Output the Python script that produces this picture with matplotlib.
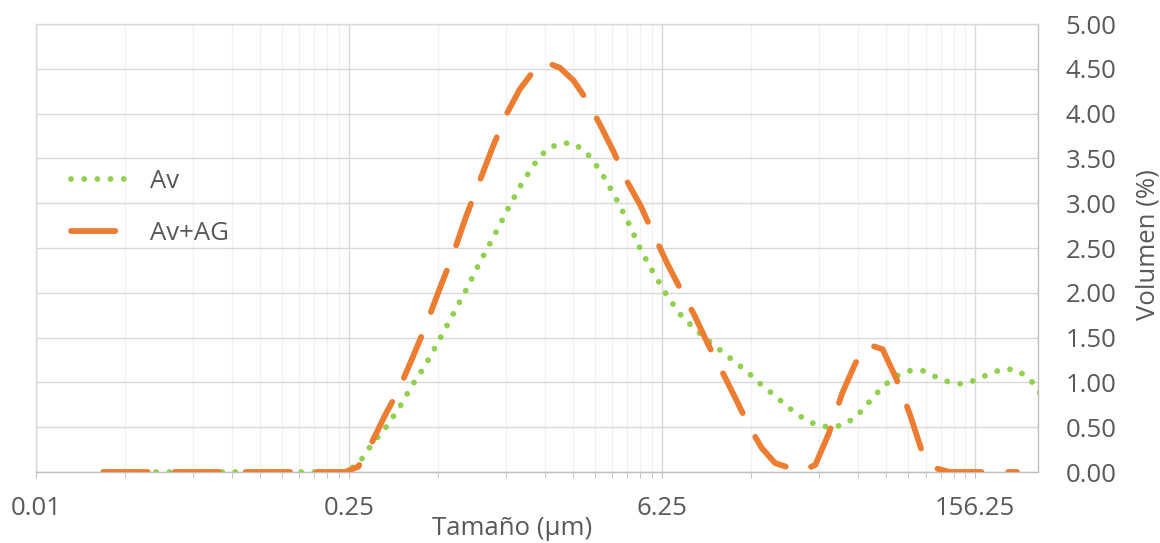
import numpy as np
import matplotlib
matplotlib.use('Agg')
import matplotlib.pyplot as plt
from matplotlib.ticker import FixedLocator, FixedFormatter, NullFormatter

# particle size classes (um)
sizes = [0.020, 0.023, 0.026, 0.030, 0.035, 0.040, 0.046, 0.052, 0.060, 0.069,
         0.079, 0.091, 0.105, 0.120, 0.138, 0.158, 0.182, 0.209, 0.240, 0.275,
         0.316, 0.363, 0.417, 0.479, 0.550, 0.631, 0.724, 0.832, 0.955, 1.096,
         1.259, 1.445, 1.660, 1.905, 2.188, 2.512, 2.884, 3.311, 3.802, 4.365,
         5.012, 5.754, 6.607, 7.586, 8.710, 10.000, 11.482, 13.183, 15.136, 17.378,
         19.953, 22.909, 26.303, 30.200, 34.674, 39.811, 45.709, 52.481, 60.256, 69.183,
         79.433, 91.201, 104.713, 120.226, 138.038, 158.489, 181.970, 208.930, 239.883, 275.423,
         316.228]

# volume (%)
av = [0, 0, 0, 0, 0, 0, 0, 0, 0, 0,
      0, 0, 0, 0, 0, 0, 0, 0, 0, 0.09,
      0.31, 0.49, 0.71, 0.97, 1.20, 1.47, 1.75, 2.03, 2.33, 2.61,
      2.90, 3.18, 3.42, 3.60, 3.67, 3.67, 3.56, 3.36, 3.10, 2.81,
      2.48, 2.21, 1.96, 1.75, 1.60, 1.47, 1.35, 1.23, 1.11, 0.97,
      0.85, 0.72, 0.61, 0.53, 0.50, 0.52, 0.61, 0.78, 0.95, 1.07,
      1.13, 1.13, 1.06, 1.00, 0.98, 1.03, 1.10, 1.15, 1.14, 1.03,
      0.82]

av_ag = [0, 0, 0, 0, 0, 0, 0, 0, 0, 0,
         0, 0, 0, 0, 0, 0, 0, 0, 0, 0.06,
         0.33, 0.64, 0.92, 1.27, 1.63, 2.03, 2.41, 2.85, 3.24, 3.63,
         3.99, 4.27, 4.47, 4.57, 4.51, 4.37, 4.15, 3.87, 3.57, 3.24,
         2.97, 2.64, 2.32, 2.03, 1.75, 1.43, 1.14, 0.84, 0.53, 0.27,
         0.10, 0.05, 0.01, 0.08, 0.43, 0.88, 1.22, 1.42, 1.37, 1.05,
         0.66, 0.20, 0.04, 0, 0, 0, 0, 0, 0]

x_major = [0.01, 0.25, 6.25, 156.25]
x_labels = ['0.01', '0.25', '6.25', '156.25']
y_ticks = [0, 0.5, 1, 1.5, 2, 2.5, 3, 3.5, 4, 4.5, 5]

plt.rcParams['font.family'] = ['Open Sans', 'DejaVu Sans']
txt = '#595959'
fs = 18.5

fig = plt.figure(figsize=(11.6, 5.43), dpi=100)
ax = fig.add_axes([36 / 1160, 71 / 543, 1002 / 1160, 448 / 543])

ax.plot(sizes, av, color='#92D050', lw=4.2, linestyle=(0, (0.01, 2.25)),
        dash_capstyle='round', dash_joinstyle='round', label='Av', zorder=3)
ax.plot(sizes[:len(av_ag)], av_ag, color='#ED7D31', lw=4.2, linestyle=(0, (7.6, 4.6)),
        dash_capstyle='round', dash_joinstyle='round', label='Av+AG', zorder=4)

ax.set_xscale('log')
ax.set_xlim(0.01, 298)
ax.set_ylim(0, 5)

# excel style log axis, base 25
minors = [m * k / 10 for m in x_major[1:] for k in range(1, 10)]
ax.xaxis.set_major_locator(FixedLocator(x_major))
ax.xaxis.set_major_formatter(FixedFormatter(x_labels))
ax.xaxis.set_minor_locator(FixedLocator(minors))
ax.xaxis.set_minor_formatter(NullFormatter())

ax.set_yticks(y_ticks)
ax.set_yticklabels([f'{v:.2f}' for v in y_ticks])
ax.yaxis.tick_right()
ax.yaxis.set_label_position('right')

ax.grid(which='major', axis='x', color='#D9D9D9', lw=1.0)
ax.grid(which='minor', axis='x', color='#F2F2F2', lw=1.0)
ax.grid(which='major', axis='y', color='#D9D9D9', lw=1.0)
ax.set_axisbelow(True)

ax.tick_params(axis='x', which='both', direction='out', length=4, color='#BFBFBF',
               labelsize=fs, labelcolor=txt, pad=13)
ax.tick_params(axis='y', length=0, labelsize=fs, labelcolor=txt, pad=20)

for side in ['left', 'top']:
    ax.spines[side].set_color('#D9D9D9')
for side in ['bottom', 'right']:
    ax.spines[side].set_color('#BFBFBF')
for s in ax.spines.values():
    s.set_linewidth(1.0)

ax.set_xlabel('Tamaño (µm)', fontsize=fs, color=txt, va='center')
ax.xaxis.set_label_coords(0.475, -0.127)
ax.set_ylabel('Volumen (%)', fontsize=fs, color=txt, va='center')
ax.yaxis.set_label_coords(1.11, 0.507)

ax.legend(loc='upper left', bbox_to_anchor=(0.035, 0.676), frameon=False, fontsize=fs,
          handlelength=2.35, handletextpad=0.72, labelspacing=1.05, borderpad=0,
          borderaxespad=0, labelcolor=txt)

plt.savefig('out.png', dpi=100)
